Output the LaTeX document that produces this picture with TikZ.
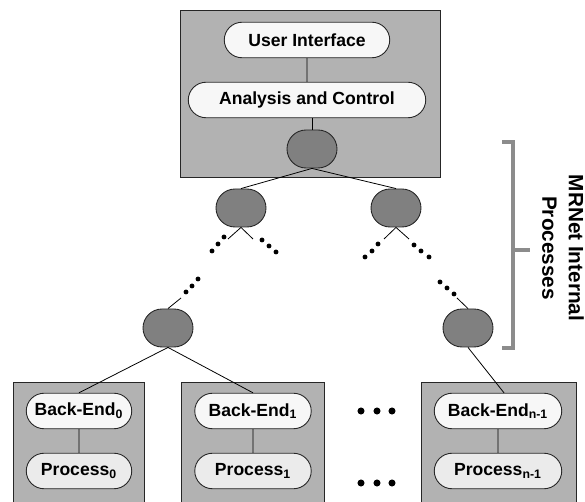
\documentclass[tikz,border=0pt]{standalone}
\usepackage{fontspec}
\setmainfont{Liberation Sans}
\usetikzlibrary{shapes.misc}

\begin{document}
\begin{tikzpicture}[x=0.02cm,y=-0.02cm,
        font=\bfseries\fontsize{10}{12}\selectfont,
        hostbox/.style={draw=black!85,fill=black!30,line width=0.5pt},
        pill/.style={rounded rectangle,draw=black!85,fill=black!3,line width=0.5pt,
            minimum height=0.71cm,inner sep=1pt},
        procpill/.style={pill,fill=black!8},
        internal/.style={draw=black!85,fill=black!50,rounded corners=0.38cm,
            minimum width=1cm,minimum height=0.76cm,line width=0.5pt},
        link/.style={line width=0.45pt}]
    \useasboundingbox (0,0) rectangle (585,502);

    % front-end host
    \draw[hostbox] (180,10) rectangle (440,177);
    \node[pill,minimum width=3.38cm] (ui) at (307,40) {User Interface};
    \node[pill,minimum width=4.82cm] (ctrl) at (307,100) {Analysis and Control};
    \node[internal] (root) at (312,149) {};
    \draw[link] (ui) -- (ctrl);
    \draw[link] (root.north) -- (root.north |- ctrl.south);

    % internal tree
    \node[internal] (l1a) at (241,208) {};
    \node[internal] (l1b) at (396,208) {};
    \node[internal] (l2a) at (168,328) {};
    \node[internal] (l2b) at (468,328) {};
    \draw[link] (root.south) -- (l1a.north);
    \draw[link] (root.south) -- (l1b.north);

    \coordinate (l1aL) at (228,239);
    \coordinate (l1aR) at (253,239);
    \coordinate (l1bL) at (384,239);
    \coordinate (l1bR) at (409,239);
    \coordinate (l2aT) at (181,298);
    \coordinate (l2bT) at (457,298);
    \draw[link] (l1aL) -- (l1a.south) -- (l1aR);
    \draw[link] (l1bL) -- (l1b.south) -- (l1bR);
    \draw[link] (l2a.north) -- (l2aT);
    \draw[link] (l2b.north) -- (l2bT);
    \foreach \x/\y in {224/237,218/244,212/251, 262/240,269/246,276/252,
                       378/244,372/251,365/257, 414/245,421/251,429/257,
                       198/279,192/286,186/292, 440/282,447/288,454/294}{
        \fill (\x,\y) circle (1.4pt);
    }

    % back-end hosts
    \draw[hostbox] (13,382) rectangle (144,506);
    \draw[hostbox] (181,382) rectangle (324,506);
    \draw[hostbox] (421,382) rectangle (576,506);
    \node[pill,minimum width=2.18cm] (be0) at (79,411) {Back-End\textsubscript{0}};
    \node[procpill,minimum width=2.18cm] (pr0) at (79,471) {Process\textsubscript{0}};
    \node[pill,minimum width=2.4cm] (be1) at (253,411) {Back-End\textsubscript{1}};
    \node[procpill,minimum width=2.4cm] (pr1) at (253,471) {Process\textsubscript{1}};
    \node[pill,minimum width=2.62cm] (ben) at (498,411) {Back-End\textsubscript{n-1}};
    \node[procpill,minimum width=2.62cm] (prn) at (498,471) {Process\textsubscript{n-1}};
    \foreach \b/\p in {be0/pr0,be1/pr1,ben/prn}{
        \draw[link] (\b) -- (\p);
    }
    \draw[link] (l2a.south) -- (be0.north);
    \draw[link] (l2a.south) -- (be1.north);
    \draw[link] (l2b.south) -- ([xshift=0.12cm]ben.north);
    \foreach \x in {361,377,392}{
        \fill (\x,411) circle (2pt);
        \fill (\x,483) circle (2pt);
    }

    % bracket for the internal processes
    \draw[black!45,line width=2.2pt] (502,142) -- (513,142) -- (513,348) -- (502,348);
    \draw[black!45,line width=2.2pt] (513,250) -- (530,250);
    \node[rotate=-90,align=center,font=\bfseries\fontsize{11.8}{15}\selectfont] (mrnet) at (563,248)
        {MRNet Internal\\Processes};
\end{tikzpicture}
\end{document}
